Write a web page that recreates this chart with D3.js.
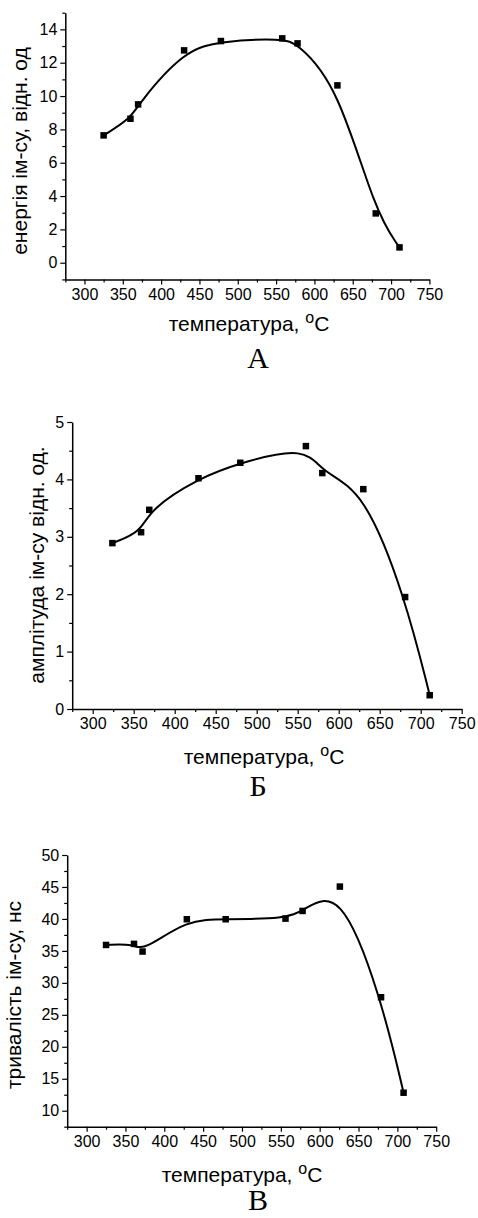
<!DOCTYPE html>
<html>
<head>
<meta charset="utf-8">
<script src="https://cdn.jsdelivr.net/npm/d3@7/dist/d3.min.js"></script>
<style>
  html, body { margin: 0; padding: 0; background: #fff; }
  svg { display: block; }
  text { font-family: "Liberation Sans", Arial, sans-serif; fill: #000; }
  .cap { font-family: "Liberation Serif", "Times New Roman", serif; }
</style>
</head>
<body>
<script>
// ---- data ----
const tempA = [325, 360, 370, 430, 478, 558, 578, 630, 680, 711];
const energyA = [7.64, 8.64, 9.5, 12.74, 13.3, 13.46, 13.16, 10.64, 2.96, 0.92];

const tempB = [324, 359, 369, 429, 480, 560, 580, 630, 681, 711];
const amplB = [2.89, 3.08, 3.47, 4.02, 4.29, 4.58, 4.11, 3.83, 1.95, 0.24];

const tempC = [325, 361, 372, 429, 479, 556, 578, 626, 679, 708];
const durC = [35.93, 36.1, 34.9, 39.95, 39.95, 40.05, 41.25, 45.06, 27.75, 12.82];

const xTicks = [300, 350, 400, 450, 500, 550, 600, 650, 700, 750];
const xMinor = [275, 325, 375, 425, 475, 525, 575, 625, 675, 725];

const yTicksA = [0, 2, 4, 6, 8, 10, 12, 14];
const yMinorA = [-1, 1, 3, 5, 7, 9, 11, 13, 15];
const yTicksB = [0, 1, 2, 3, 4, 5];
const yMinorB = [0.5, 1.5, 2.5, 3.5, 4.5];
const yTicksC = [10, 15, 20, 25, 30, 35, 40, 45, 50];
const yMinorC = [7.5, 12.5, 17.5, 22.5, 27.5, 32.5, 37.5, 42.5, 47.5];

const xTitle = "температура, ";
const yTitleA = "енергія ім-су, відн. од";
const yTitleB = "амплітуда ім-су відн. од.";
const yTitleC = "тривалість ім-су, нс";
const captions = ["А", "Б", "В"];

// ---- drawing ----
const W = 478, H = 1218;
const svg = d3.select("body").append("svg").attr("width", W).attr("height", H);

function panel(cfg) {
  const g = svg.append("g");
  const x = d3.scaleLinear().domain([275, 750]).range(cfg.xr);
  const y = d3.scaleLinear().domain(cfg.yd).range(cfg.yr);

  // minor ticks
  const gxm = g.append("g").attr("transform", `translate(0,${cfg.yr[0]})`)
    .call(d3.axisBottom(x).tickValues(xMinor).tickSize(3).tickFormat(""));
  gxm.select(".domain").remove();
  const gym = g.append("g").attr("transform", `translate(${cfg.xr[0]},0)`)
    .call(d3.axisLeft(y).tickValues(cfg.yMinor).tickSize(3).tickFormat(""));
  gym.select(".domain").remove();

  const gx = g.append("g").attr("transform", `translate(0,${cfg.yr[0]})`)
    .call(d3.axisBottom(x).tickValues(xTicks).tickSize(5).tickSizeOuter(0).tickPadding(4).tickFormat(d3.format("d")));
  const gy = g.append("g").attr("transform", `translate(${cfg.xr[0]},0)`)
    .call(d3.axisLeft(y).tickValues(cfg.yTicks).tickSize(5).tickSizeOuter(0).tickPadding(3).tickFormat(d3.format("d")));
  [gx, gy, gxm, gym].forEach(a => {
    a.selectAll("line").attr("stroke", "#000").attr("stroke-width", 1.2);
    a.selectAll("path").attr("stroke", "#000").attr("stroke-width", 1.5);
    a.selectAll("text").attr("font-size", 16).attr("font-family", "Liberation Sans, Arial, sans-serif").attr("fill", "#000");
  });

  const data = cfg.xs.map((t, i) => [t, cfg.ys[i]]);
  const line = d3.line().x(d => x(d[0])).y(d => y(d[1])).curve(d3.curveBasis);
  g.append("path").datum(data).attr("d", line)
    .attr("fill", "none").attr("stroke", "#000").attr("stroke-width", 2);

  const s = 6.5;
  g.selectAll("rect.pt").data(data).join("rect").attr("class", "pt")
    .attr("x", d => x(d[0]) - s / 2).attr("y", d => y(d[1]) - s / 2)
    .attr("width", s).attr("height", s).attr("fill", "#000");

  // x title
  const xt = g.append("text").attr("x", cfg.xtx).attr("y", cfg.xty)
    .attr("text-anchor", "middle").attr("font-size", 21);
  xt.append("tspan").text(xTitle);
  xt.append("tspan").attr("font-size", 16).attr("dy", -8).text("o");
  xt.append("tspan").attr("dy", 8).text("C");

  // y title
  g.append("text").attr("transform", `translate(${cfg.ytx},${cfg.yty}) rotate(-90)`)
    .attr("text-anchor", "middle").attr("font-size", 21).text(cfg.ytitle);

  // caption
  g.append("text").attr("class", "cap").attr("x", 258).attr("y", cfg.capy)
    .attr("text-anchor", "middle").attr("font-size", 30).text(cfg.cap);
}

panel({ xr: [65.3, 429.4], yd: [-1, 15], yr: [279.4, 12.7], yTicks: yTicksA, yMinor: yMinorA,
        xs: tempA, ys: energyA, xtx: 249, xty: 331, ytx: 27, yty: 151, ytitle: yTitleA,
        cap: captions[0], capy: 368 });
panel({ xr: [72.2, 461.7], yd: [0, 5], yr: [709, 422], yTicks: yTicksB, yMinor: yMinorB,
        xs: tempB, ys: amplB, xtx: 264, xty: 764, ytx: 44, yty: 565, ytitle: yTitleB,
        cap: captions[1], capy: 796 });
panel({ xr: [67.2, 436.2], yd: [7.5, 50], yr: [1126.7, 855], yTicks: yTicksC, yMinor: yMinorC,
        xs: tempC, ys: durC, xtx: 242, xty: 1182, ytx: 21, yty: 995, ytitle: yTitleC,
        cap: captions[2], capy: 1210 });
</script>
</body>
</html>
